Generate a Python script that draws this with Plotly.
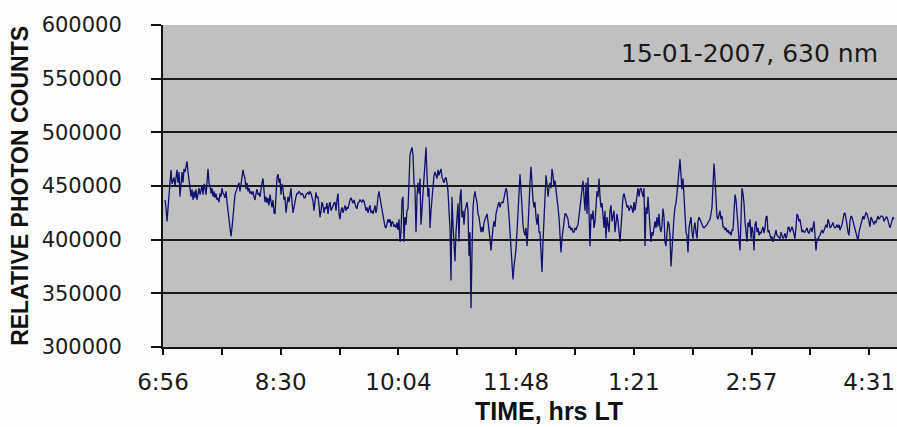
import plotly.graph_objects as go

# Relative photon counts (thousands), in time order
counts_seg1 = [437, 430, 417, 429, 440, 453, 465, 452, 455, 458,
               450, 460, 465, 453, 463, 440, 458, 463, 453, 466,
               463, 468, 473, 463, 457, 448, 440, 447, 437, 445,
               439, 447, 437, 443, 448, 442, 447, 450, 442, 452,
               448, 442, 453, 466, 453, 450, 443, 448, 440, 445,
               439, 443, 437, 439, 435, 443, 440, 448, 443, 442,
               439, 445, 435, 427, 417, 407, 403, 411, 424, 434,
               442, 445, 448, 452, 453, 445, 453, 457, 465, 460,
               457, 447, 453, 445, 448, 443, 445, 442, 445, 440,
               437, 443, 447, 442, 443, 440, 448, 453, 457, 447,
               435, 440, 434, 439, 432, 442, 434, 430, 437, 425,
               424, 447, 458, 461, 453, 457, 442, 452, 447, 437,
               440, 425, 434, 440, 435, 443, 448, 435, 425, 430,
               437, 440, 443]
counts_seg2 = [443, 445, 444, 442, 443, 442, 439, 439, 442, 443,
               444, 442, 445, 443, 440, 436, 427, 435, 444, 439,
               440, 432, 421, 427, 435, 432, 425, 430, 429, 434,
               424, 432, 435, 427, 430, 432, 434, 435, 427, 437,
               443, 424, 419, 427, 430, 425, 429, 432, 427, 430,
               429, 435, 437, 439, 435, 434, 437, 432, 430, 429,
               434, 435, 437, 436, 435, 437, 436, 432, 427, 430,
               425, 429, 432, 425, 427, 424, 429, 432, 425, 430,
               440, 445, 439, 434, 430, 424, 419, 412, 411, 417,
               419, 416, 419, 412, 417, 416, 412, 414, 411, 416,
               409, 419, 398, 407, 437, 440, 398, 421, 414, 427,
               429, 453, 479, 483, 486, 479, 453, 447, 407, 440,
               453, 443, 457, 414, 430, 440, 457, 473, 486, 460,
               440, 448, 411, 427, 440, 452, 460, 463, 460, 457]
counts_seg3 = [465, 460, 463, 466, 458, 455, 453, 457, 458, 453,
               445, 427, 411, 362, 440, 414, 401, 380, 407, 424,
               434, 398, 440, 447, 421, 427, 414, 427, 432, 435,
               427, 385, 407, 336, 388, 430, 440, 445, 439, 435,
               424, 421, 414, 407, 412, 407, 416, 419, 422, 424,
               417, 411, 401, 390, 404, 411, 417, 412, 424, 429,
               432, 435, 430, 434, 435, 434, 440, 443, 448, 445,
               435, 422, 407, 388, 375, 363, 375, 381, 391, 407,
               424, 443, 461, 447, 424, 414, 407, 404, 411, 394,
               411, 440, 453, 468, 450, 437, 430, 435, 421, 414,
               424, 407, 407, 388, 370, 398, 417, 440, 460, 452,
               440, 448, 453, 448, 466, 460, 450, 455, 448, 440,
               430, 421, 404, 388, 401, 411, 421, 424, 424, 422,
               419, 411, 412, 409, 411, 407, 407, 411, 409, 412]
counts_seg4 = [414, 422, 430, 434, 443, 455, 440, 427, 453, 424,
               458, 434, 394, 424, 419, 427, 411, 417, 430, 445,
               440, 457, 440, 430, 434, 421, 411, 427, 401, 421,
               414, 407, 427, 432, 417, 424, 427, 407, 414, 424,
               417, 407, 398, 411, 427, 440, 443, 437, 435, 430,
               432, 427, 430, 432, 429, 425, 435, 427, 434, 442,
               448, 440, 447, 448, 443, 440, 448, 394, 430, 424,
               440, 424, 417, 398, 407, 404, 411, 417, 411, 421,
               412, 424, 411, 407, 414, 429, 421, 398, 394, 407,
               417, 414, 404, 375, 394, 407, 421, 430, 434, 443,
               457, 463, 475, 460, 447, 457, 440, 421, 407, 404,
               388, 411, 417, 421, 407, 401, 411, 416, 407, 401,
               417, 421, 419, 416, 414, 412, 411, 412, 412, 414,
               416, 417, 419, 424, 430, 450, 471, 457, 437, 421]
counts_seg5 = [419, 425, 427, 419, 422, 412, 412, 409, 411, 407,
               409, 406, 407, 404, 409, 409, 421, 442, 437, 422,
               414, 401, 390, 424, 448, 443, 434, 417, 404, 398,
               416, 412, 419, 401, 412, 407, 390, 414, 417, 407,
               411, 404, 407, 406, 409, 412, 406, 411, 421, 422,
               407, 409, 404, 401, 403, 398, 401, 406, 409, 404,
               403, 401, 401, 407, 404, 401, 403, 406, 401, 404,
               411, 412, 407, 411, 412, 409, 404, 401, 412, 424,
               422, 417, 419, 411, 407, 409, 407, 407, 409, 411,
               407, 406, 409, 411, 407, 412, 417, 404, 390, 401,
               399, 403, 404, 407, 409, 406, 409, 412, 414, 411,
               419, 416, 411, 412, 414, 416, 412, 411, 412, 414,
               411, 414, 409, 411, 414, 419, 424, 425, 421, 414,
               407, 404, 417, 422, 421, 417, 416, 412, 407, 404,
               399, 407, 411, 412, 419, 422, 419, 422, 425, 424,
               421, 417, 412, 421, 419, 416, 414, 417, 416, 419,
               422, 419, 421, 422, 422, 421, 417, 419, 421, 421,
               417, 414, 411, 414, 417, 421, 419]

time_labels = ["6:56", "8:30", "10:04", "11:48", "1:21", "2:57", "4:31"]
samples_per_label = 117.7   # category samples between labelled ticks
y_ticks = [300000, 350000, 400000, 450000, 500000, 550000, 600000]

counts = [v * 1000 for v in counts_seg1 + counts_seg2 + counts_seg3 + counts_seg4 + counts_seg5]
x_idx = list(range(len(counts)))

# tick marks: labelled ones plus unlabelled ones in between
tickvals, ticktext = [], []
for k, lab in enumerate(time_labels):
    tickvals.append(-2 + k * samples_per_label)
    ticktext.append(lab)
    tickvals.append(-2 + (k + 0.5) * samples_per_label)
    ticktext.append("")

fig = go.Figure()
fig.add_trace(go.Scatter(x=x_idx, y=counts, mode="lines",
                         line=dict(color="#10106e", width=1.3),
                         hoverinfo="skip", showlegend=False))

fig.update_layout(
    width=897, height=427,
    margin=dict(l=163, r=0, t=25, b=80),
    paper_bgcolor="#fdfdfd",
    plot_bgcolor="#c0c0c0",
    font=dict(family="DejaVu Sans", color="#1a1a1a"),
    xaxis=dict(range=[-2, 732], showgrid=False, zeroline=False,
               showline=True, linecolor="#111111", linewidth=2,
               tickmode="array", tickvals=tickvals, ticktext=ticktext,
               ticks="outside", ticklen=6, tickwidth=1.5, tickcolor="#111111",
               tickfont=dict(size=23, family="DejaVu Sans", color="#1a1a1a"),
               ticklabelstandoff=7),
    yaxis=dict(range=[300000, 600000], tickmode="array", tickvals=y_ticks,
               tickformat="d", showgrid=True, gridcolor="#1a1a1a", gridwidth=1.6,
               zeroline=False, showline=True, linecolor="#111111", linewidth=2,
               ticks="outside", ticklen=10, tickwidth=1.5, tickcolor="#111111",
               tickfont=dict(size=21, family="DejaVu Sans", color="#1a1a1a"),
               ticklabelstandoff=25),
    annotations=[
        dict(text="15-01-2007, 630 nm", xref="paper", yref="paper",
             x=0.977, y=0.91, xanchor="right", yanchor="middle", showarrow=False,
             font=dict(size=25, family="DejaVu Sans", color="#1a1a1a")),
        dict(text="<b>TIME, hrs LT</b>", xref="paper", yref="paper",
             x=0.526, y=-0.2, xanchor="center", yanchor="middle", showarrow=False,
             font=dict(size=25, family="Liberation Sans", color="#111111")),
        dict(text="<b>RELATIVE PHOTON COUNTS</b>", xref="paper", yref="paper",
             x=-0.195, y=0.5, xanchor="center", yanchor="middle", showarrow=False,
             textangle=-90,
             font=dict(size=23, family="Liberation Sans", color="#111111")),
    ],
)

fig.write_html("out.html", config={"displayModeBar": False},
               post_script="document.body.style.margin='0';")
